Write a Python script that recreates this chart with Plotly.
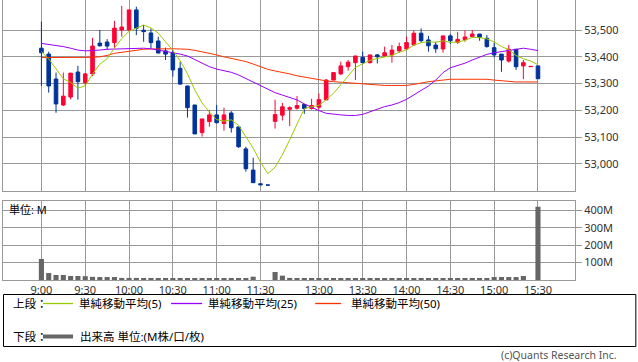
import plotly.graph_objects as go
from plotly.subplots import make_subplots

# ---- data (5-minute bars, slot index along x) ----
slots = list(range(69))
tick_slots = [0, 6, 12, 18, 24, 30, 38, 44, 50, 56, 62, 68]
tick_labels = ["9:00", "9:30", "10:00", "10:30", "11:00", "11:30",
               "13:00", "13:30", "14:00", "14:30", "15:00", "15:30"]

opens = [53432, 53410, 53317, 53220, 53250, 53343, 53303, 53336, 53451, 53455,
         53453, 53500, 53500, 53575, 53499, 53489, 53459, 53422, 53415, 53357,
         53291, 53220, 53117, 53158, 53183, 53151, 53190, 53138, 53056, 52977,
         52926, 52921, 53159, 53182, 53204, 53208, 53222, 53207, 53212, 53239,
         53313, 53336, 53363, 53378, 53398, 53378, 53407, 53403, 53407, 53422,
         53429, 53444, 53488, 53463, 53444, 53429, 53478, 53454, 53464, 53475,
         53485, 53469, 53434, 53410, 53384, 53428, 53366, 53363, 53366]
highs = [53531, 53419, 53341, 53341, 53339, 53366, 53340, 53471, 53500, 53466,
         53534, 53590, 53575, 53587, 53519, 53506, 53475, 53434, 53425, 53382,
         53291, 53220, 53168, 53201, 53220, 53210, 53197, 53138, 53064, 53023,
         52926, 52921, 53240, 53228, 53215, 53253, 53224, 53243, 53263, 53317,
         53341, 53382, 53388, 53403, 53419, 53407, 53410, 53438, 53444, 53453,
         53475, 53498, 53506, 53478, 53456, 53478, 53485, 53493, 53498, 53500,
         53485, 53481, 53453, 53410, 53444, 53428, 53388, 53364, 53366]
lows = [53291, 53266, 53191, 53216, 53241, 53240, 53295, 53328, 53438, 53425,
        53432, 53475, 53496, 53481, 53456, 53432, 53413, 53388, 53326, 53295,
        53173, 53112, 53102, 53139, 53151, 53124, 53117, 53060, 52971, 52930,
        52922, 52921, 53132, 53162, 53141, 53203, 53187, 53203, 53203, 53239,
        53313, 53332, 53348, 53313, 53375, 53375, 53375, 53400, 53378, 53415,
        53428, 53443, 53453, 53419, 53415, 53415, 53448, 53448, 53456, 53473,
        53460, 53434, 53398, 53344, 53378, 53351, 53316, 53363, 53318]
closes = [53415, 53291, 53224, 53253, 53339, 53307, 53336, 53440, 53441, 53440,
          53507, 53511, 53575, 53506, 53494, 53453, 53414, 53410, 53351, 53298,
          53210, 53112, 53168, 53183, 53154, 53183, 53135, 53064, 52982, 52930,
          52922, 52921, 53184, 53213, 53210, 53218, 53207, 53218, 53240, 53313,
          53341, 53366, 53380, 53403, 53378, 53407, 53400, 53415, 53425, 53438,
          53453, 53488, 53460, 53441, 53430, 53478, 53460, 53465, 53474, 53485,
          53473, 53438, 53407, 53388, 53428, 53363, 53378, 53364, 53318]

# MA(5) values of the first four bars (they use the previous session)
ma5_head = [53419, 53392, 53355, 53318]
# MA(25) and MA(50) (they depend on the previous session)
ma25 = [53450, 53446, 53443, 53438, 53432, 53425, 53422, 53423, 53425, 53428,
        53429, 53430, 53432, 53432, 53432, 53430, 53425, 53422, 53417, 53410,
        53403, 53390, 53376, 53363, 53354, 53348, 53342, 53332, 53319, 53307,
        53291, 53278, 53266, 53257, 53247, 53239, 53224, 53211, 53199, 53189,
        53185, 53183, 53181, 53181, 53185, 53195, 53205, 53214, 53220, 53229,
        53241, 53257, 53273, 53291, 53313, 53341, 53359, 53367, 53376, 53388,
        53400, 53409, 53415, 53419, 53425, 53429, 53432, 53428, 53423]
ma50 = [53397, 53397, 53397, 53397, 53397, 53397, 53397, 53398, 53400, 53405,
        53413, 53417, 53422, 53425, 53428, 53429, 53430, 53430, 53430, 53429,
        53428, 53424, 53419, 53413, 53407, 53400, 53394, 53388, 53382, 53373,
        53363, 53353, 53347, 53342, 53336, 53329, 53324, 53318, 53313, 53310,
        53307, 53305, 53302, 53301, 53298, 53295, 53293, 53293, 53293, 53293,
        53293, 53297, 53303, 53307, 53310, 53313, 53316, 53316, 53316, 53316,
        53316, 53316, 53313, 53311, 53307, 53306, 53306, 53306, 53306]

volume_m = [121, 40, 29, 29, 23, 23, 22, 18, 17, 17,
            17, 12, 12, 12, 11, 11, 7, 11, 11, 11,
            11, 11, 10, 10, 9, 11, 11, 11, 11, 19,
            0, 0, 46, 25, 12, 11, 11, 11, 11, 10,
            11, 11, 8, 11, 11, 8, 8, 8, 8, 8,
            11, 11, 11, 8, 8, 8, 8, 11, 8, 11,
            11, 11, 17, 17, 17, 17, 23, 0, 421]

price_ticks = [53000, 53100, 53200, 53300, 53400, 53500]
vol_ticks = [100, 200, 300, 400]
vol_tick_labels = ["100M", "200M", "300M", "400M"]

# ---- derived ----
ma5 = []
for i in range(len(closes)):
    if i < 4:
        ma5.append(ma5_head[i])
    else:
        ma5.append(sum(closes[i - 4:i + 1]) / 5)
volume = [v * 1e6 for v in volume_m]

RED = "#ff0033"
BLUE = "#003399"
GRID = "#999999"
FONT = "Noto Sans, Noto Sans CJK JP, sans-serif"

fig = make_subplots(rows=2, cols=1, shared_xaxes=False,
                    row_heights=[0.68, 0.32], vertical_spacing=0.04)

fig.add_trace(go.Candlestick(
    x=slots, open=opens, high=highs, low=lows, close=closes,
    increasing=dict(line=dict(color=RED, width=1), fillcolor=RED),
    decreasing=dict(line=dict(color=BLUE, width=1), fillcolor=BLUE),
    whiskerwidth=0, showlegend=False, hoverinfo="skip"), row=1, col=1)

fig.add_trace(go.Scatter(x=slots, y=ma50, mode="lines",
                         line=dict(color="#ff3300", width=1), showlegend=False,
                         hoverinfo="skip"), row=1, col=1)
fig.add_trace(go.Scatter(x=slots, y=ma25, mode="lines",
                         line=dict(color="#9900ff", width=1), showlegend=False,
                         hoverinfo="skip"), row=1, col=1)
fig.add_trace(go.Scatter(x=slots, y=ma5, mode="lines",
                         line=dict(color="#99cc00", width=1), showlegend=False,
                         hoverinfo="skip"), row=1, col=1)

fig.add_trace(go.Bar(x=slots, y=volume, marker=dict(color="#666666", line=dict(width=0)),
                     width=0.7, showlegend=False, hoverinfo="skip"), row=2, col=1)

xr = [-5.26, 73.07]
common_x = dict(range=xr, tickmode="array", tickvals=tick_slots, showgrid=True,
                gridcolor=GRID, gridwidth=1, zeroline=False, linecolor=GRID,
                linewidth=1, showline=True, ticks="", fixedrange=True)
fig.update_xaxes(**common_x, ticktext=tick_labels, showticklabels=False,
                 mirror=False, rangeslider=dict(visible=False), row=1, col=1)
fig.update_xaxes(**common_x, ticktext=tick_labels, showticklabels=True, mirror=True,
                 tickfont=dict(family=FONT, size=11, color="#333333"), row=2, col=1)

fig.update_yaxes(range=[52900, 53612], side="right", tickmode="array",
                 tickvals=price_ticks, tickformat=",d", showgrid=True,
                 gridcolor=GRID, gridwidth=1, zeroline=False, showline=True,
                 mirror=True, linecolor=GRID, linewidth=1, ticks="outside",
                 ticklen=6, tickcolor=GRID, fixedrange=True,
                 tickfont=dict(family=FONT, size=11, color="#333333"), row=1, col=1)
fig.update_yaxes(range=[0, 454e6], side="right", tickmode="array",
                 tickvals=[v * 1e6 for v in vol_ticks], ticktext=vol_tick_labels,
                 showgrid=True, gridcolor=GRID, gridwidth=1, zeroline=False,
                 showline=True, mirror=True, linecolor=GRID, linewidth=1,
                 ticks="outside", ticklen=6, tickcolor=GRID, fixedrange=True,
                 tickfont=dict(family=FONT, size=11, color="#333333"), row=2, col=1)

# domains: plot area is px 0..280 vertically
fig.update_layout(
    yaxis=dict(domain=[(280 - 190.7) / 280, 1.0]),
    yaxis2=dict(domain=[0.0, (280 - 201) / 280]),
)

W, H = 638, 362
L, R, T, B = 3, 63.3, 0, 82
pw = W - L - R
ph = H - T - B


def px(x):
    return (x - L) / pw


def py(y):
    return (ph + T - y) / ph


shapes = []
annotations = []
# legend frame
shapes.append(dict(type="rect", xref="paper", yref="paper",
                   x0=px(3.5), x1=px(635.5), y0=py(346.5), y1=py(294.5),
                   line=dict(color="#000000", width=1), fillcolor="rgba(0,0,0,0)"))
leg_y1 = 303.5
leg_y2 = 336.5
for x0, x1, col in [(43, 73, "#99cc00"), (171, 202, "#9900ff"), (315, 341, "#ff3300")]:
    shapes.append(dict(type="line", xref="paper", yref="paper",
                       x0=px(x0), x1=px(x1), y0=py(leg_y1), y1=py(leg_y1),
                       line=dict(color=col, width=1.3)))
shapes.append(dict(type="line", xref="paper", yref="paper",
                   x0=px(43), x1=px(73), y0=py(leg_y2), y1=py(leg_y2),
                   line=dict(color="#666666", width=4)))

leg_font = dict(family=FONT, size=11.5, color="#000000")
for x, y, t in [(11, leg_y1, "上段："), (77, leg_y1, "単純移動平均(5)"),
                (206, leg_y1, "単純移動平均(25)"), (349, leg_y1, "単純移動平均(50)"),
                (11, leg_y2, "下段："), (78, leg_y2, "出来高 単位:(M株/口/枚)")]:
    annotations.append(dict(x=px(x), y=py(y), xref="paper", yref="paper", text=t,
                            showarrow=False, xanchor="left", yanchor="middle",
                            font=leg_font))
annotations.append(dict(x=px(7), y=py(209), xref="paper", yref="paper", text="単位: M",
                        showarrow=False, xanchor="left", yanchor="middle",
                        font=dict(family=FONT, size=11, color="#000000")))
annotations.append(dict(x=px(619), y=py(355), xref="paper", yref="paper",
                        text="(c)Quants Research Inc.", showarrow=False,
                        xanchor="right", yanchor="middle",
                        font=dict(family=FONT, size=10.5, color="#555555")))

fig.update_layout(
    width=W, height=H,
    margin=dict(l=L, r=R, t=T, b=B, pad=0),
    paper_bgcolor="white", plot_bgcolor="white",
    shapes=shapes, annotations=annotations,
    bargap=0.3, showlegend=False,
    font=dict(family=FONT),
)

fig.write_html("out.html",
               config={"displayModeBar": False},
               post_script="document.body.style.margin='0';document.body.style.overflow='hidden';")
